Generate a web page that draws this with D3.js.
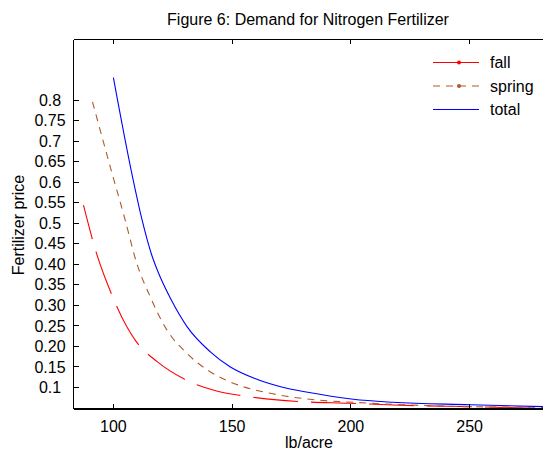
<!DOCTYPE html>
<meta charset="utf-8">
<script src="https://cdn.jsdelivr.net/npm/d3@7"></script>
<style>
  body { margin: 0; background: #fff; }
  text { font-family: "Liberation Sans", Arial, sans-serif; fill: #000; }
</style>
<body>
<script>

// values
var fallX   = [87.4, 92.6, 99.3, 105.6, 109.4, 118.3, 129.8, 143.5, 154.3, 179.5, 199.6, 217.7, 250, 282];
var fallY   = [0.544, 0.432, 0.326, 0.248, 0.213, 0.163, 0.120, 0.091, 0.0795, 0.0648, 0.061, 0.0567, 0.0526, 0.0485];
var springX = [91.2, 98.6, 104.9, 109.8, 115.4, 122.5, 130.9, 140.7, 153.3, 166, 185.6, 201, 217.7, 250, 282];
var springY = [0.796, 0.639, 0.509, 0.403, 0.322, 0.240, 0.183, 0.138, 0.104, 0.0853, 0.069, 0.0633, 0.0584, 0.0526, 0.051];
var totalX  = [100, 107.7, 112, 116, 120, 124, 131, 140.7, 149.1, 160.4, 173, 186.3, 201, 217.8, 250.1, 282];
var totalY  = [0.855, 0.623, 0.51, 0.425, 0.365, 0.317, 0.248, 0.187, 0.150, 0.1195, 0.0975, 0.0836, 0.0707, 0.0633, 0.0575, 0.0525];

var xTicks = [100, 150, 200, 250];
var yTicks = [0.1, 0.15, 0.2, 0.25, 0.3, 0.35, 0.4, 0.45, 0.5, 0.55, 0.6, 0.65, 0.7, 0.75, 0.8];
var yTickLabels = ["0.1", "0.15", "0.20", "0.25", "0.30", "0.35", "0.40", "0.45", "0.5", "0.55", "0.6", "0.65", "0.7", "0.75", "0.8"];

var seriesNames = ["fall", "spring", "total"];

var W = 543, H = 453;
var pLeft = 73.5, pRight = 543, pTop = 39.5, pBottom = 409;

var svg = d3.select("body").append("svg")
    .attr("width", W)
    .attr("height", H);

var x = d3.scaleLinear().domain([83.2, 280.9]).range([pLeft, pRight]);
var y = d3.scaleLinear().domain([0.047, 0.948]).range([pBottom, pTop]);

svg.append("defs").append("clipPath").attr("id", "plot")
  .append("rect")
    .attr("x", pLeft).attr("y", pTop)
    .attr("width", pRight - pLeft + 5).attr("height", pBottom - pTop);

var series = [
  { name: "fall",   xs: fallX,   ys: fallY,   color: "#ff0000", dash: "45,13", offset: 10 },
  { name: "spring", xs: springX, ys: springY, color: "#b0582a", dash: "7,6",   offset: 0 },
  { name: "total",  xs: totalX,  ys: totalY,  color: "#0000ff", dash: null,    offset: 0 }
];

var line = d3.line()
    .x(function(d) { return x(d[0]); })
    .y(function(d) { return y(d[1]); })
    .curve(d3.curveMonotoneX);

var g = svg.append("g").attr("clip-path", "url(#plot)");

series.forEach(function(s) {
  var pts = s.xs.map(function(v, i) { return [v, s.ys[i]]; });
  g.append("path")
      .datum(pts)
      .attr("d", line)
      .attr("fill", "none")
      .attr("stroke", s.color)
      .attr("stroke-width", 1.1)
      .attr("stroke-dasharray", s.dash)
      .attr("stroke-dashoffset", s.offset);
});

// axes: left and bottom lines, top line with ticks
var axes = svg.append("g").attr("stroke", "#000").attr("shape-rendering", "crispEdges");
axes.append("line").attr("x1", pLeft).attr("x2", pLeft).attr("y1", pTop).attr("y2", pBottom).attr("stroke-width", 1.5);
axes.append("line").attr("x1", pLeft).attr("x2", pRight).attr("y1", pBottom).attr("y2", pBottom).attr("stroke-width", 1.5);
axes.append("line").attr("x1", pLeft).attr("x2", pRight).attr("y1", pTop).attr("y2", pTop).attr("stroke-width", 1);

xTicks.forEach(function(t) {
  axes.append("line").attr("x1", x(t)).attr("x2", x(t)).attr("y1", pBottom).attr("y2", pBottom - 5);
  axes.append("line").attr("x1", x(t)).attr("x2", x(t)).attr("y1", pTop).attr("y2", pTop + 4);
  svg.append("text")
      .attr("x", x(t)).attr("y", pBottom + 23)
      .attr("text-anchor", "middle")
      .style("font-size", "16px")
      .text(t);
});

yTicks.forEach(function(t, i) {
  axes.append("line").attr("x1", pLeft).attr("x2", pLeft + 5).attr("y1", y(t)).attr("y2", y(t));
  svg.append("text")
      .attr("x", 50).attr("y", y(t))
      .attr("dy", "0.36em")
      .attr("text-anchor", "middle")
      .style("font-size", "16px")
      .text(yTickLabels[i]);
});

// titles
svg.append("text")
    .attr("x", 308).attr("y", 25)
    .attr("text-anchor", "middle")
    .style("font-size", "16px")
    .text("Figure 6: Demand for Nitrogen Fertilizer");

svg.append("text")
    .attr("x", 309).attr("y", 448)
    .attr("text-anchor", "middle")
    .style("font-size", "16px")
    .text("lb/acre");

svg.append("text")
    .attr("transform", "translate(24,225) rotate(-90)")
    .attr("text-anchor", "middle")
    .style("font-size", "16px")
    .text("Fertilizer price");

// legend
var legend = svg.append("g");
series.forEach(function(s, i) {
  var ly = 62.5 + i * 23.5;
  legend.append("line")
      .attr("x1", 433).attr("x2", 479).attr("y1", ly).attr("y2", ly)
      .attr("stroke", s.color)
      .attr("stroke-width", 1.1)
      .attr("stroke-dasharray", s.name == "spring" ? "7,6" : null);
  if (s.name != "total") {
    legend.append("circle")
        .attr("cx", 459).attr("cy", ly).attr("r", 2)
        .attr("fill", s.color);
  }
  legend.append("text")
      .attr("x", 490).attr("y", ly)
      .attr("dy", "0.36em")
      .style("font-size", "16px")
      .text(seriesNames[i]);
});

</script>
</body>
